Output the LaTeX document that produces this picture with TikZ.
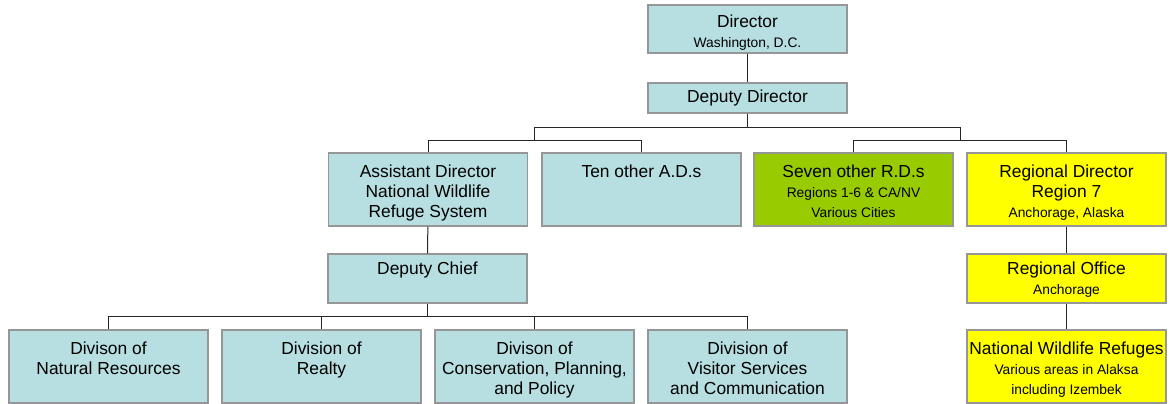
\documentclass[tikz,border=0pt]{standalone}
\usepackage{fontspec}
\setmainfont{Liberation Sans}
\definecolor{fwsblue}{RGB}{183,222,224}
\definecolor{rdgreen}{RGB}{153,204,0}
\definecolor{rdyellow}{RGB}{255,255,0}
\definecolor{edgegray}{RGB}{150,150,150}
\newcommand{\subline}{\fontsize{13.8}{16.8}\selectfont}

\begin{document}
\begin{tikzpicture}[x=1pt, y=-1pt,
    orgbox/.style={draw=edgegray, line width=1.3pt, minimum width=199pt, minimum height=#1, inner sep=0pt},
    orgtext/.style={anchor=north, align=center, inner sep=0pt, font=\fontsize{17.4}{20}\selectfont},
    link/.style={draw=black!85, line width=1pt}]
  \useasboundingbox (0,0) rectangle (1170,404);

  %director and deputy
  \node[orgbox=48, fill=fwsblue] (dir) at (747.5,29) {};
  \node[orgtext] (dir-t) at (747.5,15) {Director\\ \subline Washington, D.C.};
  \node[orgbox=30, fill=fwsblue] (depdir) at (747.5,98) {};
  \node[orgtext] (depdir-t) at (747.5,90) {Deputy Director};

  %assistant and regional directors
  \node[orgbox=73, fill=fwsblue] (asst) at (428,189.5) {};
  \node[orgtext] (asst-t) at (428,165) {Assistant Director\\National Wildlife\\Refuge System};
  \node[orgbox=73, fill=fwsblue] (tenad) at (641.5,189.5) {};
  \node[orgtext] (tenad-t) at (641.5,165) {Ten other A.D.s};
  \node[orgbox=73, fill=rdgreen] (seven) at (853.5,189.5) {};
  \node[orgtext] (seven-t) at (853.5,165) {Seven other R.D.s\\ \subline Regions 1-6 \& CA/NV\\ \subline Various Cities};
  \node[orgbox=73, fill=rdyellow] (regdir) at (1066.5,189.5) {};
  \node[orgtext] (regdir-t) at (1066.5,165) {Regional Director\\Region 7\\ \subline Anchorage, Alaska};

  %refuge system side
  \node[orgbox=49, fill=fwsblue] (depchief) at (427.5,278.5) {};
  \node[orgtext] (depchief-t) at (427.5,262) {Deputy Chief};
  \foreach \name/\x/\txt in {natres/108.5/{Divison of\\Natural Resources},
      realty/321.5/{Division of\\Realty},
      consv/534.5/{Divison of\\Conservation, Planning,\\and Policy},
      visitor/747.5/{Division of\\Visitor Services\\and Communication}}{
    \node[orgbox=73, fill=fwsblue] (\name) at (\x,366.5) {};
    \node[orgtext] (\name-t) at (\x,341.5) {\txt};
  }

  %region 7 side
  \node[orgbox=49, fill=rdyellow] (regoff) at (1066.5,278.5) {};
  \node[orgtext] (regoff-t) at (1066.5,262) {Regional Office\\ \subline Anchorage};
  \node[orgbox=73, fill=rdyellow] (nwr) at (1066.5,366.5) {};
  \node[orgtext] (nwr-t) at (1066.5,341.5) {National Wildlife Refuges\\ \subline Various areas in Alaksa\\ \subline including Izembek};

  %connecting lines
  \coordinate (adbus) at (534,140);
  \coordinate (rdbus) at (960,140);
  \coordinate (divbus) at (427.5,316.5);
  \draw[link] (dir) -- (depdir);
  \draw[link] (depdir.south) -- ++(0,14) coordinate (topbus);
  \draw[link] (adbus) |- (topbus) -| (rdbus);
  \foreach \b in {asst,tenad}
    \draw[link] (\b.north) |- (adbus);
  \foreach \b in {seven,regdir}
    \draw[link] (\b.north) |- (rdbus);
  \draw[link] (asst) -- (depchief);
  \draw[link] (depchief) -- (divbus);
  \foreach \b in {natres,realty,consv,visitor}
    \draw[link] (\b.north) |- (divbus);
  \draw[link] (regdir) -- (regoff);
  \draw[link] (regoff) -- (nwr);
\end{tikzpicture}
\end{document}
